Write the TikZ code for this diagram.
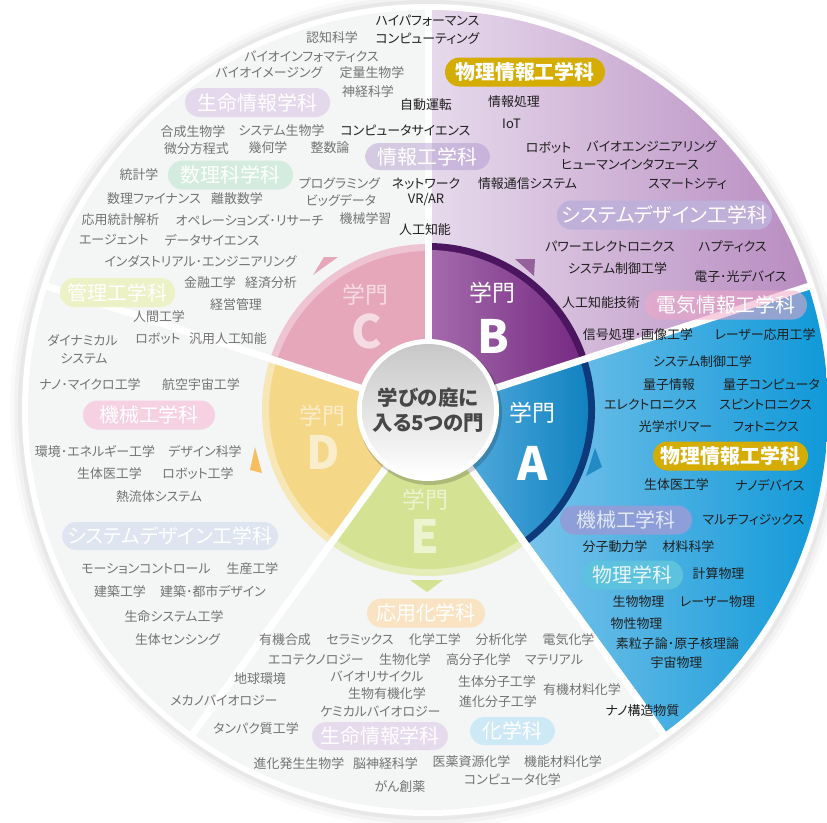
\documentclass[tikz,border=0pt]{standalone}
\usepackage{fontspec}
\setmainfont{Noto Sans CJK JP}[RawFeature=+palt]
\usepackage{tikz}

\definecolor{ringbg}{HTML}{F4F5F5}
\definecolor{outB1}{HTML}{E7DAEC}
\definecolor{outB2}{HTML}{B88CC1}
\definecolor{outA1}{HTML}{9AD0F0}
\definecolor{outA2}{HTML}{0494D6}
\definecolor{gateB1}{HTML}{A46CAC}
\definecolor{gateB2}{HTML}{772A83}
\definecolor{gateBrim}{HTML}{4C1560}
\definecolor{gateA1}{HTML}{66B6E4}
\definecolor{gateA2}{HTML}{0A7EBE}
\definecolor{gateArim}{HTML}{0C3A7A}
\definecolor{gateC}{HTML}{E6A7BB}
\definecolor{gateCrim}{HTML}{EFC4D2}
\definecolor{gateD}{HTML}{F4D888}
\definecolor{gateDrim}{HTML}{F7E6B6}
\definecolor{gateE}{HTML}{D3E293}
\definecolor{gateErim}{HTML}{E4EDBA}
\definecolor{wordgray}{HTML}{737373}
\definecolor{worddark}{HTML}{1F1F1F}
\definecolor{gold}{HTML}{D5AC00}

\tikzset{
  word/.style = {inner sep=0pt, text=wordgray, font=\fontsize{13}{15}\selectfont},
  keyword/.style = {word, text=worddark},
  dept/.style = {rounded corners=14.5bp, minimum height=29bp, inner sep=0pt,
    text=white, font=\fontsize{20}{22}\selectfont},
  golddept/.style = {dept, fill=gold, font=\fontsize{20}{22}\bfseries\selectfont},
  gate/.style = {inner sep=0pt, font=\fontsize{23}{25}\selectfont},
  letter/.style = {inner sep=0pt, font=\fontsize{46}{48}\bfseries\selectfont},
  sep/.style = {white, line width=7bp}
}

\begin{document}
\begin{tikzpicture}[x=1bp, y=1bp]
  \useasboundingbox (0,0) rectangle (827,-823);
  \fill[white] (0,0) rectangle (827,-823);

  % wheel
  \begin{scope}[shift={(428,-410)}]
    \foreach \r/\o in {418/.02, 414/.03, 410/.04}
      \fill[black, opacity=\o] (0,0) circle[radius=\r];
    \fill[white] (0,0) circle[radius=406];
    \fill[ringbg] (0,0) circle[radius=400];
    \shade[left color=outB1, right color=outB2]
      (0,0) -- (18:400) arc[start angle=18, end angle=90, radius=400] -- cycle;
    \shade[left color=outA1, right color=outA2]
      (0,0) -- (-54:400) arc[start angle=-54, end angle=18, radius=400] -- cycle;

    % gates
    \foreach \a/\b/\col/\rim in {90/162/gateC/gateCrim, 162/234/gateD/gateDrim,
                                 234/306/gateE/gateErim} {
      \fill[\rim] (0,0) -- (\a:166) arc[start angle=\a, end angle=\b, radius=166] -- cycle;
      \fill[\col] (0,0) -- (\a:159) arc[start angle=\a, end angle=\b, radius=159] -- cycle;
    }
    \fill[gateBrim] (0,0) -- (18:167) arc[start angle=18, end angle=90, radius=167] -- cycle;
    \shade[left color=gateB1, right color=gateB2]
      (0,0) -- (18:160) arc[start angle=18, end angle=90, radius=160] -- cycle;
    \fill[gateArim] (0,0) -- (-54:167) arc[start angle=-54, end angle=18, radius=167] -- cycle;
    \shade[left color=gateA1, right color=gateA2]
      (0,0) -- (-54:160) arc[start angle=-54, end angle=18, radius=160] -- cycle;

    \foreach \a in {18, 90, 162, 234, 306}
      \draw[sep] (0,0) -- (\a:404);

    % hub
    \fill[black, opacity=.18] (2,-3) circle[radius=72];
    \fill[white] (0,0) circle[radius=71];
    \shade[top color=black!22, bottom color=white] (0,0) circle[radius=66];
    \node[inner sep=0pt, align=center, text=black!72,
      font=\fontsize{20.5}{25}\bfseries\selectfont] (hub) at (0,0) {学びの庭に\\入る5つの門};
  \end{scope}

  % pointers
  \fill[gateB1!90!black] (515,-259) -- (535,-259) -- (534,-276) -- cycle;
  \fill[gateA2!90!white] (595,-448) -- (602,-467) -- (586,-476) -- cycle;
  \fill[gateC] (324,-257) -- (338,-257) -- (313,-275) -- cycle;
  \fill[orange!30!gateD] (255,-447) -- (262,-473) -- (250,-470) -- cycle;
  \fill[gateE] (410,-580) -- (443,-580) -- (427,-592) -- cycle;

  % gate labels
  \node[gate, white] (gB) at (492,-293) {学門};
  \node[letter, white] (B) at (493,-336) {B};
  \node[gate, white] (gA) at (532,-413) {学門};
  \node[letter, white] (A) at (533,-463) {A};
  \node[gate, text=gateCrim!60!white] (gC) at (365,-295) {学門};
  \node[letter, text=gateCrim!60!white] (C) at (367,-331) {C};
  \node[gate, text=gateDrim!70!white] (gD) at (322,-416) {学門};
  \node[letter, text=gateDrim!70!white] (D) at (323,-452) {D};
  \node[gate, text=gateErim!70!white] (gE) at (425,-500) {学門};
  \node[letter, text=gateErim!70!white] (E) at (425,-536) {E};

  % departments
  \node[golddept, minimum width=160bp] (physinfoB) at (525,-72) {物理情報工学科};
  \node[golddept, minimum width=155bp] (physinfoA) at (730.5,-456) {物理情報工学科};
  \node[dept, fill={rgb,255:red,228;green,217;blue,236}, minimum width=145bp] (bioinfoC) at (257.5,-102.5) {生命情報学科};
  \node[dept, fill={rgb,255:red,164;green,140;blue,200}, fill opacity=.4, text opacity=1,
    minimum width=125bp, minimum height=27bp] (infoeng) at (427.5,-156.5) {情報工学科};
  \node[dept, fill={rgb,255:red,212;green,236;blue,223}, minimum width=125bp] (math) at (230.5,-175) {数理科学科};
  \node[dept, fill={rgb,255:red,190;green,176;blue,217}, minimum width=215bp] (sysB) at (664.5,-215) {システムデザイン工学科};
  \node[dept, fill={rgb,255:red,240;green,168;blue,200}, fill opacity=.55, text opacity=1,
    minimum width=162bp] (elec) at (726,-305) {電気情報工学科};
  \node[dept, fill={rgb,255:red,236;green,242;blue,198}, minimum width=115bp] (mgmt) at (117.5,-292.5) {管理工学科};
  \node[dept, fill={rgb,255:red,245;green,209;blue,225}, minimum width=132bp] (mechD) at (149,-415) {機械工学科};
  \node[dept, fill={rgb,255:red,142;green,158;blue,216}, text={rgb,255:red,226;green,232;blue,246},
    minimum width=132bp] (mechA) at (626,-520) {機械工学科};
  \node[dept, fill={rgb,255:red,93;green,194;blue,221}, text={rgb,255:red,232;green,246;blue,250},
    minimum width=101bp] (phys) at (632.5,-575) {物理学科};
  \node[dept, fill={rgb,255:red,222;green,228;blue,240}, minimum width=216bp, minimum height=28bp] (sysD) at (170,-536) {システムデザイン工学科};
  \node[dept, fill={rgb,255:red,250;green,227;blue,195}, minimum width=118bp] (appchem) at (426,-613) {応用化学科};
  \node[dept, fill={rgb,255:red,230;green,219;blue,236}, minimum width=136bp, minimum height=28bp] (bioinfoE) at (380,-736) {生命情報学科};
  \node[dept, fill={rgb,255:red,205;green,233;blue,245}, minimum width=85bp, minimum height=28bp] (chem) at (512.5,-731) {化学科};

  % keywords
  \foreach \x/\y/\t [count=\i] in {
    332/38/認知科学, 311.5/57/バイオインフォマティクス, 269/73/バイオイメージング,
    372/73/定量生物学, 368/92/神経科学, 193/132/合成生物学, 281.5/131/システム生物学,
    196.5/149/微分方程式, 268/148/幾何学, 330/148/整数論, 139/175/統計学,
    339.5/183.5/プログラミング, 154/198.5/数理ファイナンス, 237/198.5/離散数学,
    341/200/ビッグデータ, 120.5/220/応用統計解析, 249.5/220/オペレーションズ･リサーチ,
    365.5/219/機械学習, 114/240/エージェント, 212/240/データサイエンス,
    200.5/261.5/インダストリアル･エンジニアリング, 210/283/金融工学, 271/283/経済分析,
    236/305/経営管理, 159/316.5/人間工学, 82.5/340/ダイナミカル, 84/358.5/システム,
    158/339/ロボット, 228/339/汎用人工知能, 90/385/ナノ･マイクロ工学,
    201/385/航空宇宙工学, 95/451.5/環境･エネルギー工学, 205/451.5/デザイン科学,
    109.5/473.5/生体医工学, 198/473.5/ロボット工学, 159/496.5/熱流体システム,
    146/568.5/モーションコントロール, 252.5/568.5/生産工学, 120/591.5/建築工学,
    213/591.5/建築･都市デザイン, 174/616.5/生命システム工学, 177.5/640/生体センシング,
    285/640/有機合成, 360/640/セラミックス, 435/640/化学工学, 501.5/640/分析化学,
    568.5/640/電気化学, 316/660/エコテクノロジー, 405/660/生物化学,
    478.5/660/高分子化学, 554/660/マテリアル, 260/678.5/地球環境,
    377/676.5/バイオリサイクル, 387/693.5/生物有機化学, 497/681.5/生体分子工学,
    582/690/有機材料化学, 224/700/メカノバイオロジー, 498/701.5/進化分子工学,
    380.5/711.5/ケミカルバイオロジー, 256/728.5/タンパク質工学,
    299/763.5/進化発生生物学, 385.5/763.5/脳神経科学, 471.5/761.5/医薬資源化学,
    563/761.5/機能材料化学, 512.5/779.5/コンピュータ化学, 400/786.5/がん創薬}
    \node[word] (w\i) at (\x,-\y) {\t};

  \foreach \x/\y/\t [count=\i] in {
    427.5/21/ハイパフォーマンス, 427.5/38.5/コンピューティング, 426/105/自動運転,
    405.5/131/コンピュータサイエンス, 426/183.5/ネットワーク, 425/230/人工知能,
    514/101.5/情報処理, 511.5/124/IoT, 548.5/147.5/ロボット,
    651.5/147/バイオエンジニアリング, 630/165/ヒューマンインタフェース,
    527.5/183.5/情報通信システム, 687.5/183.5/スマートシティ,
    610/246.5/パワーエレクトロニクス, 732.5/246.5/ハプティクス,
    617.5/268.5/システム制御工学, 740.5/276.5/電子･光デバイス, 601/302.5/人工知能技術,
    638/334.5/信号処理･画像工学, 765/334.5/レーザー応用工学,
    702.5/361.5/システム制御工学, 669/385/量子情報, 771.5/385/量子コンピュータ,
    650.5/405/エレクトロニクス, 765.5/405/スピントロニクス, 675.5/426.5/光学ポリマー,
    766/426.5/フォトニクス, 676.5/485/生体医工学, 770/485/ナノデバイス,
    753.5/520/マルチフィジックス, 615/546.5/分子動力学, 688.5/546.5/材料科学,
    718.5/573.5/計算物理, 638.5/601.5/生物物理, 717.5/601.5/レーザー物理,
    636.5/624/物性物理, 677.5/643.5/素粒子論･原子核理論, 676.5/662.5/宇宙物理,
    642.5/710.5/ナノ構造物質}
    \node[keyword] (k\i) at (\x,-\y) {\t};
  \node[keyword] (vrar) at (426,-200) {VR/AR};
\end{tikzpicture}
\end{document}
